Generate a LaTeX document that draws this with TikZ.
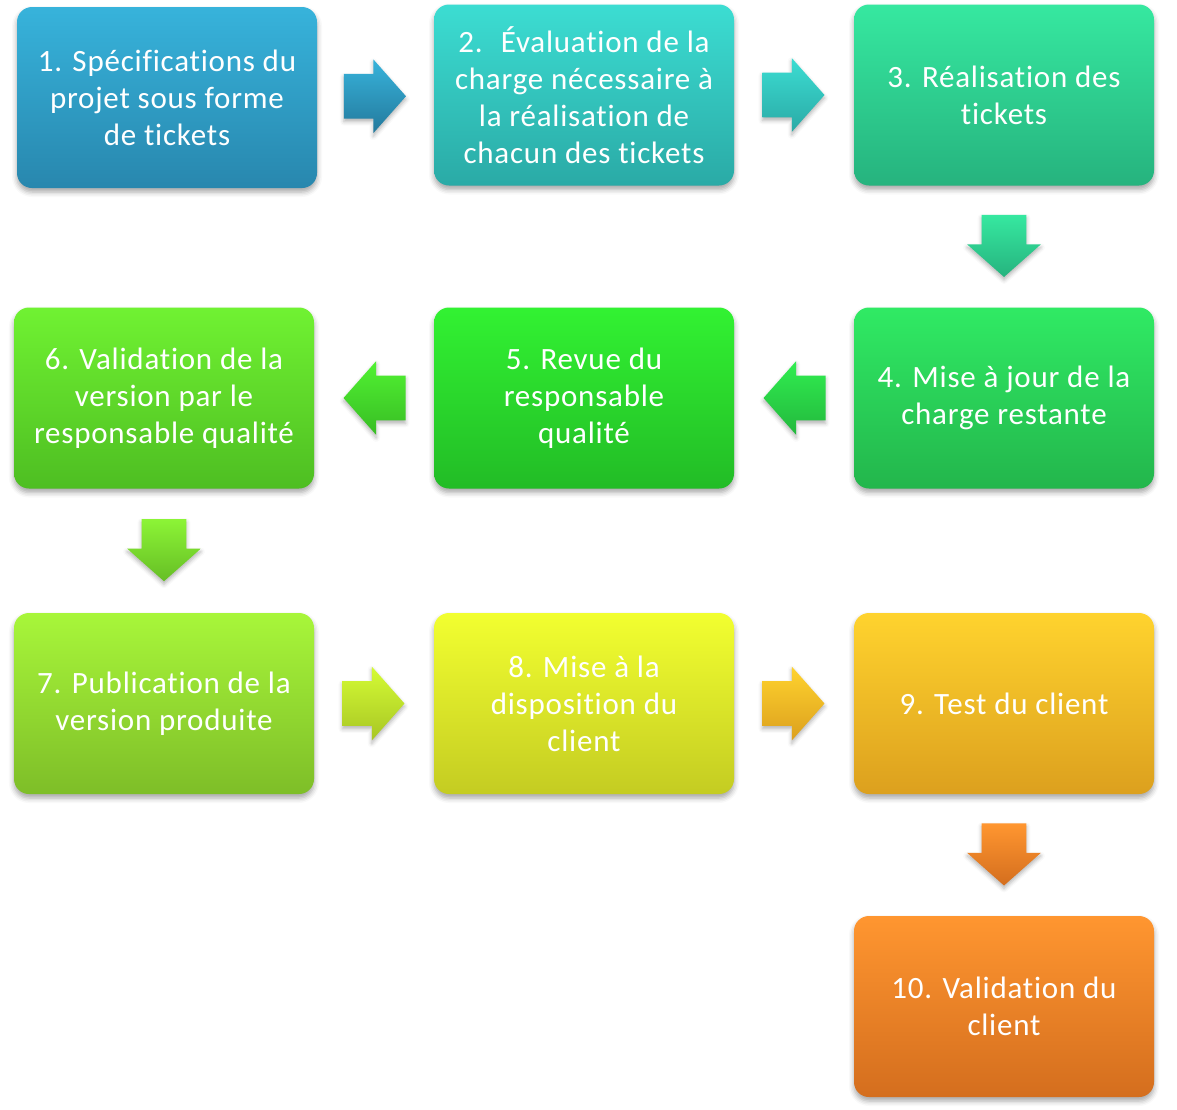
\documentclass[tikz,border=0pt]{standalone}
\usepackage{fontspec}
\setmainfont{Carlito}[Ligatures=NoCommon, LetterSpace=2.5]
\usetikzlibrary{shapes.arrows,shadows.blur,calc}

% couleurs des etapes (haut / bas)
\definecolor{unH}{HTML}{37B3DB}
\definecolor{unB}{HTML}{2887AE}
\definecolor{deuxH}{HTML}{3CDDD2}
\definecolor{deuxB}{HTML}{2AAAA6}
\definecolor{troisH}{HTML}{36E8A0}
\definecolor{troisB}{HTML}{26B37E}
\definecolor{quatreH}{HTML}{30EA64}
\definecolor{quatreB}{HTML}{23B64C}
\definecolor{cinqH}{HTML}{32F232}
\definecolor{cinqB}{HTML}{22BC26}
\definecolor{sixH}{HTML}{70F232}
\definecolor{sixB}{HTML}{4EBE22}
\definecolor{septH}{HTML}{A8F63A}
\definecolor{septB}{HTML}{7EBE28}
\definecolor{huitH}{HTML}{F2FF30}
\definecolor{huitB}{HTML}{C4CC22}
\definecolor{neufH}{HTML}{FFD32E}
\definecolor{neufB}{HTML}{DCA01E}
\definecolor{dixH}{HTML}{FF9630}
\definecolor{dixB}{HTML}{D46E1E}

\tikzset{
  etape/.style={rectangle, rounded corners=7.5pt, minimum width=150pt,
    minimum height=90.5pt, text=white, align=center,
    font=\fontsize{15.5pt}{18.5pt}\selectfont,
    blur shadow={shadow xshift=0pt, shadow yshift=-2pt,
      shadow blur radius=2.5pt, shadow opacity=35}},
  fleche/.style={single arrow, single arrow head extend=7.25pt,
    single arrow tip angle=97, minimum height=31pt, minimum width=0pt,
    inner xsep=0pt, inner ysep=11pt,
    blur shadow={shadow xshift=0pt, shadow yshift=-1.5pt,
      shadow blur radius=2pt, shadow opacity=30}},
  droite/.style={anchor=tip},
  bas/.style={shape border rotate=270, anchor=tip, inner xsep=11pt, inner ysep=0pt},
  gauche/.style={shape border rotate=180, anchor=tip}
}

\begin{document}
\begin{tikzpicture}[x=0.5pt,y=-0.5pt]
\useasboundingbox (0,0) rectangle (1177,1109);

% ligne 1
\node [etape, top color=unH, bottom color=unB] (e1) at (167,97.5)
  {1. Spécifications du\\projet sous forme\\de tickets};
\node [etape, top color=deuxH, bottom color=deuxB] (e2) at (584,95)
  {2.~ Évaluation de la\\charge nécessaire à\\la réalisation de\\chacun des tickets};
\node [etape, top color=troisH, bottom color=troisB] (e3) at (1004,95)
  {3. Réalisation des\\tickets};

% ligne 2
\node [etape, top color=quatreH, bottom color=quatreB] (e4) at (1004,398)
  {4. Mise à jour de la\\charge restante};
\node [etape, top color=cinqH, bottom color=cinqB] (e5) at (584,398)
  {5. Revue du\\responsable\\qualité};
\node [etape, top color=sixH, bottom color=sixB] (e6) at (164,398)
  {6. Validation de la\\version par le\\responsable qualité};

% ligne 3
\node [etape, top color=septH, bottom color=septB] (e7) at (164,703.5)
  {7. Publication de la\\version produite};
\node [etape, top color=huitH, bottom color=huitB] (e8) at (584,703.5)
  {8. Mise à la\\disposition du\\client};
\node [etape, top color=neufH, bottom color=neufB] (e9) at (1004,703.5)
  {9. Test du client};

% ligne 4
\node [etape, top color=dixH, bottom color=dixB] (e10) at (1004,1006.5)
  {10. Validation du\\client};

% fleches (pointe placee a 31px du milieu)
\node [fleche, droite, top color=unH, bottom color=unB!90!black] (f12)
  at ($($(e1.east)!0.5!(e2.west)$)+(31,0)$) {};
\node [fleche, droite, top color=deuxH, bottom color=deuxB] (f23)
  at ($($(e2.east)!0.5!(e3.west)$)+(31,0)$) {};
\node [fleche, bas, top color=troisH, bottom color=troisB] (f34)
  at ($($(e3.south)!0.5!(e4.north)$)+(0,31)$) {};
\node [fleche, gauche, top color=quatreH!60!cinqH, bottom color=quatreB!60!cinqB] (f45)
  at ($($(e4.west)!0.5!(e5.east)$)+(-31,0)$) {};
\node [fleche, gauche, top color=cinqH!50!sixH, bottom color=cinqB!50!sixB] (f56)
  at ($($(e5.west)!0.5!(e6.east)$)+(-31,0)$) {};
\node [fleche, bas, top color=sixH!50!septH, bottom color=sixB!50!septB] (f67)
  at ($($(e6.south)!0.5!(e7.north)$)+(0,31)$) {};
\node [fleche, droite, top color=septH!40!huitH, bottom color=septB!40!huitB] (f78)
  at ($($(e7.east)!0.5!(e8.west)$)+(31,0)$) {};
\node [fleche, droite, top color=neufH, bottom color=neufB] (f89)
  at ($($(e8.east)!0.5!(e9.west)$)+(31,0)$) {};
\node [fleche, bas, top color=dixH, bottom color=dixB] (f910)
  at ($($(e9.south)!0.5!(e10.north)$)+(0,31)$) {};
\end{tikzpicture}
\end{document}
